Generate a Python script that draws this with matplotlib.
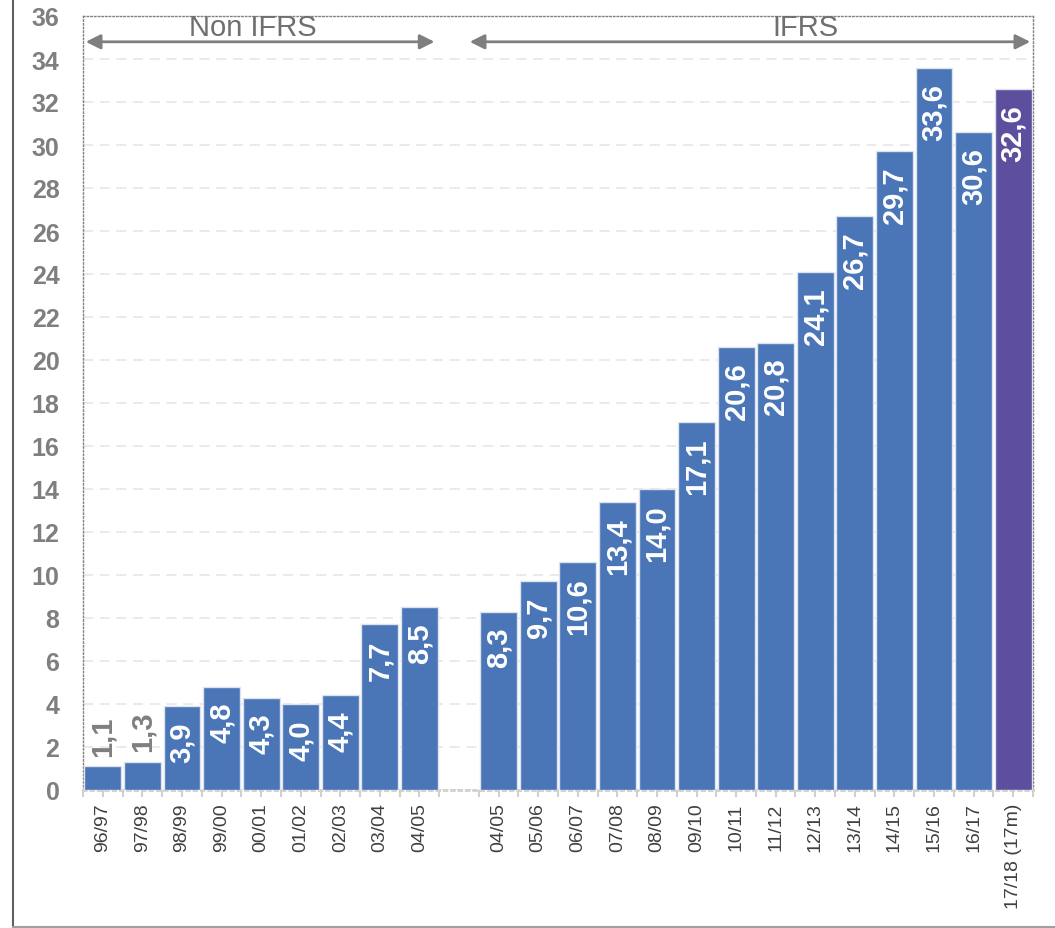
import numpy as np
import matplotlib
matplotlib.use('Agg')
import matplotlib.pyplot as plt
from matplotlib.lines import Line2D

plt.rcParams['font.family'] = ['Liberation Sans', 'DejaVu Sans']

# 数据
non_ifrs_years = ["96/97", "97/98", "98/99", "99/00", "00/01", "01/02", "02/03", "03/04", "04/05"]
non_ifrs_values = [1.1, 1.3, 3.9, 4.8, 4.3, 4.0, 4.4, 7.7, 8.5]
ifrs_years = ["04/05", "05/06", "06/07", "07/08", "08/09", "09/10", "10/11", "11/12",
              "12/13", "13/14", "14/15", "15/16", "16/17", "17/18 (17m)"]
ifrs_values = [8.3, 9.7, 10.6, 13.4, 14.0, 17.1, 20.6, 20.8, 24.1, 26.7, 29.7, 33.6, 30.6, 32.6]

blue = '#4a76b8'
purple = '#5d4f9e'
grey = '#7f7f7f'

fig = plt.figure(figsize=(10.55, 9.29), dpi=100)
ax = fig.add_axes([83/1055, 1 - 791/929, 950/1055, 774/929])

labels = non_ifrs_years + [""] + ifrs_years
values = non_ifrs_values + [np.nan] + ifrs_values
x = np.arange(len(labels))
colors = [blue] * len(labels)
colors[-1] = purple

for xi, v, c in zip(x, values, colors):
    if np.isnan(v):
        continue
    ax.bar(xi, v, width=0.93, color=c, edgecolor='#dde3ee', linewidth=1, zorder=3)
    txt = f"{v:.1f}".replace(".", ",")
    if v < 2:
        ax.text(xi, v + 0.5, txt, rotation=90, ha='center', va='bottom',
                color=grey, fontsize=21, fontweight='bold', zorder=4)
    else:
        ax.text(xi, v - 0.7, txt, rotation=90, ha='center', va='top',
                color='white', fontsize=21, fontweight='bold', zorder=4)

ax.set_xlim(-0.5, len(labels) - 0.5)
ax.set_ylim(0, 36)
ax.set_yticks(np.arange(0, 37, 2))
ax.tick_params(axis='y', length=0, pad=17, labelsize=18, labelcolor=grey)
for t in ax.get_yticklabels():
    t.set_fontweight('bold')
tick_pos = [xi for xi, l in zip(x, labels) if l]
ax.set_xticks(tick_pos)
ax.set_xticklabels([l for l in labels if l], rotation=90, fontsize=14, color='#404040')
ax.set_xticks(np.arange(-0.5, len(labels), 1), minor=True)
ax.tick_params(axis='x', which='both', length=5, color='#d0d0d0', width=1.5)
ax.tick_params(axis='x', which='major', pad=4)

ax.grid(axis='y', linestyle=(0, (6, 4)), color='#e6e6e6', linewidth=1.2, zorder=0)
for s in ['top', 'left', 'right']:
    ax.spines[s].set_linestyle(':')
    ax.spines[s].set_color('#808080')
    ax.spines[s].set_linewidth(1)
ax.spines['bottom'].set_color('#d0d0d0')
ax.spines['bottom'].set_linewidth(2)
ax.spines['bottom'].set_linestyle(':')

# 区间箭头
arrow_y = 34.8
ax.annotate('', xy=(-0.5, arrow_y), xytext=(8.45, arrow_y),
            arrowprops=dict(arrowstyle='<|-|>', color=grey, lw=2, mutation_scale=22))
ax.annotate('', xy=(9.2, arrow_y), xytext=(23.5, arrow_y),
            arrowprops=dict(arrowstyle='<|-|>', color=grey, lw=2, mutation_scale=22))
ax.text(3.8, arrow_y + 0.05, "Non IFRS", ha='center', va='bottom', fontsize=21, color='#6f6f6f')
ax.text(17.75, arrow_y + 0.05, "IFRS", ha='center', va='bottom', fontsize=21, color='#6f6f6f')

# 外框
fig.add_artist(Line2D([13/1055, 13/1055], [0, 1], color='#606060', lw=1.5))
fig.add_artist(Line2D([13/1055, 1], [1/929, 1/929], color='#a0a0a0', lw=1.5))

fig.savefig('out.png', dpi=100)
